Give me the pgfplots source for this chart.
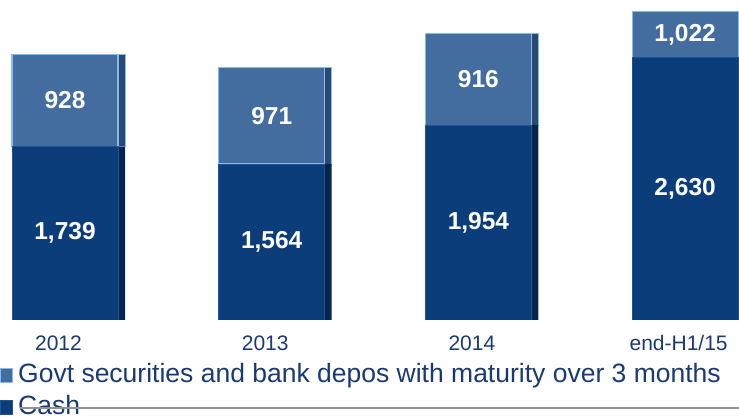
\documentclass[border=0pt]{standalone}
\usepackage{pgfplots}
\pgfplotsset{compat=1.18}
\usepackage{pgfplotstable}
\usepackage{fontspec}
\setmainfont{Liberation Sans}
\definecolor{cashface}{HTML}{0B3D7A}
\definecolor{cashside}{HTML}{06244C}
\definecolor{cashedge}{HTML}{1E5490}
\definecolor{govface}{HTML}{436D9F}
\definecolor{govside}{HTML}{2B486E}
\definecolor{govedge}{HTML}{84BCF8}
\definecolor{txt}{HTML}{1A3A75}
\definecolor{govleg}{HTML}{4B78AE}
% segment values (the last govt segment is drawn shortened in the original, labelled 1,022)
\pgfplotstableread{
x cash cashlbl cashmid govt govtlbl govtmid
0 1739 1,739 869.5 928 928 2203
1 1564 1,564 782 971 971 2049.5
2 1954 1,954 977 916 916 2412
3 2630 2,630 1315 461 1,022 2860.5
}\bardata
\pgfplotsset{barbase/.style={
  scale only axis, width=739pt, height=320pt,
  xmin=-0.31447, xmax=3.2607, ymin=0, ymax=3210,
  at={(0pt,97pt)}, anchor=south west,
}}
\begin{document}
\begin{tikzpicture}
\useasboundingbox (0,0) rectangle (739pt,417pt);
% side strips (back)
\begin{axis}[barbase, ybar stacked, hide axis, bar width=113pt, bar shift=3.5pt]
\addplot[fill=cashside, draw=none] table[x=x, y=cash] {\bardata};
\addplot[fill=govside, draw=govedge, line width=1pt] table[x=x, y=govt] {\bardata};
\end{axis}
% faces (front)
\begin{axis}[barbase, ybar stacked, bar width=106pt,
  axis line style={draw=none}, major tick length=0pt,
  ytick=\empty, xtick={0,1,2,3},
  xticklabels={2012,2013,2014,end-H1/15},
  xticklabel style={font=\fontsize{21}{24}\selectfont, text=txt, anchor=north, inner sep=0pt, yshift=-15.5pt, xshift=-6.5pt},
  reverse legend,
  legend style={draw=none, fill=none, inner sep=0pt, outer sep=0pt,
     at={(axis description cs:0,-0.1375)}, anchor=north west,
     font=\fontsize{26.5}{30}\selectfont, text=txt,
     nodes={inner sep=0pt, text height=19pt, text depth=6pt},
     row sep=7pt, column sep=5pt},
  legend cell align=left,
  legend image code/.code={\fill[#1] (0pt,-6pt) rectangle (12pt,8pt);},
]
\addplot[fill=cashface, draw=cashedge, line width=0.8pt] table[x=x, y=cash] {\bardata};
\addlegendentry{Cash}
\addplot[fill=govface, draw=govedge, line width=1.2pt] table[x=x, y=govt] {\bardata};
\addlegendentry{Govt securities and bank depos with maturity over 3 months}
\end{axis}
% value labels
\begin{axis}[barbase, hide axis, clip=false,
  nodes near coords, point meta=explicit symbolic,
  every node near coord/.append style={anchor=center, text=white,
     font=\fontsize{24.5}{27}\selectfont\bfseries}]
\addplot[only marks, mark=none] table[x=x, y=cashmid, meta=cashlbl] {\bardata};
\addplot[only marks, mark=none] table[x=x, y=govtmid, meta=govtlbl] {\bardata};
\end{axis}
\draw[color=gray!85, line width=1.5pt] (20pt,9pt) -- (739pt,9pt);
\end{tikzpicture}
\end{document}
